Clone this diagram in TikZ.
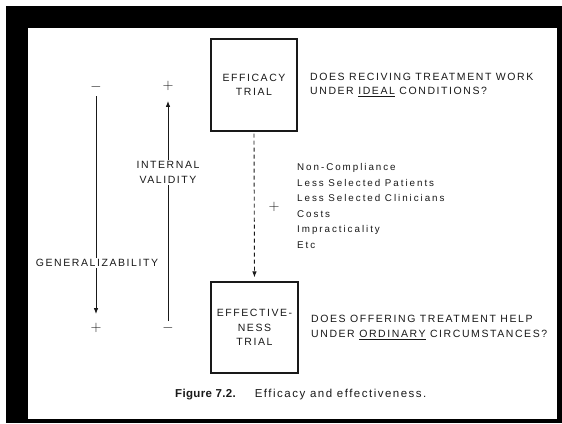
\documentclass[tikz,border=0pt]{standalone}
\usepackage{fontspec}
\setmainfont{Liberation Sans}
\newfontfamily\capsf[LetterSpace=15]{Liberation Sans}
\newfontfamily\listf[LetterSpace=20]{Liberation Sans}
\newfontfamily\capregf[LetterSpace=13]{Liberation Sans}
\newfontfamily\capboldf[LetterSpace=3]{Liberation Sans Bold}
\usetikzlibrary{arrows.meta}
\begin{document}
\begin{tikzpicture}[x=1pt,y=-1pt,
  trialbox/.style={draw=black!90, line width=1.2pt, align=center, inner sep=0pt,
    font=\capsf\fontsize{10.5}{14.5}\selectfont, text=black!90},
  capstext/.style={align=left, inner sep=0pt, anchor=west,
    font=\capsf\fontsize{10.5}{14.5}\selectfont, text=black!90},
  listtext/.style={align=left, inner sep=0pt, anchor=west,
    font=\listf\fontsize{9.8}{15.6}\selectfont, text=black!90},
  sign/.style={inner sep=0pt, minimum size=8pt, font=\fontsize{14}{14}\selectfont, text=black!90},
  axislabel/.style={fill=white, inner sep=1.5pt, align=center,
    font=\capsf\fontsize{10.5}{14.5}\selectfont, text=black!90},
  axisline/.style={draw=black!90, line width=0.9pt},
  tip/.style={-{Latex[length=6pt,width=4.5pt]}},
  flow/.style={draw=black!90, line width=0.9pt, dash pattern=on 4pt off 3pt}
]
% frame
\fill[white] (0,0) rectangle (562,423);
\fill[black] (6,6) rectangle (562,423);
\fill[white] (28,28) rectangle (557,419);

% boxes
\node[trialbox, minimum width=86pt, minimum height=92pt] (efficacy) at (254,85) {EFFICACY\\TRIAL};
\node[trialbox, minimum width=87pt, minimum height=91pt] (effective) at (254.5,327.5) {EFFECTIVE-\\NESS\\TRIAL};

% questions
\node[capstext] (q1) at (310,85) {DOES RECIVING TREATMENT WORK\\UNDER \underline{IDEAL} CONDITIONS?};
\node[capstext] (q2) at (311,327.5) {DOES OFFERING TREATMENT HELP\\UNDER \underline{ORDINARY} CIRCUMSTANCES?};

% dashed arrow
\draw[flow, tip, shorten <=2pt, shorten >=4pt] (efficacy.south) -- (effective.north);

% factor list
\node[sign] (plus) at (274,207) {$+$};
\node[listtext] (factors) at (297,206) {Non-Compliance\\Less Selected Patients\\Less Selected Clinicians\\Costs\\Impracticality\\Etc};

% signs
\node[sign] (gm) at (96,87) {$-$};
\node[sign] (gp) at (96,328) {$+$};
\node[sign] (ivp) at (168,86) {$+$};
\node[sign] (ivm) at (168,328) {$-$};

% axes
\draw[axisline, tip, shorten <=4pt, shorten >=9pt] (gm.south) -- (gp.north);
\draw[axisline, tip, shorten <=2pt, shorten >=10pt] (ivm.north) -- (ivp.south);

% axis labels
\node[axislabel] (gen) at (97,263) {GENERALIZABILITY};
\node[axislabel] (iv) at (168,172.5) {INTERNAL\\VALIDITY};

% caption
\node[inner sep=0pt, anchor=west, text=black!90] (caption) at (175,395)
  {{\capboldf\fontsize{11.5}{12}\selectfont Figure 7.2.}\hspace{19pt}{\capregf\fontsize{11.5}{12}\selectfont Efficacy and effectiveness.}};
\end{tikzpicture}
\end{document}
